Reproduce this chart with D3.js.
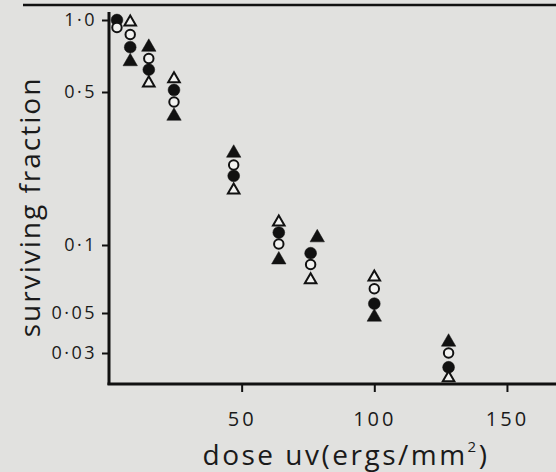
<!DOCTYPE html>
<html>
<head>
<meta charset="utf-8">
<script src="https://cdn.jsdelivr.net/npm/d3@7"></script>
<style>
  body { margin: 0; background: #e1e1df; }
  svg { display: block; }
  text { font-family: "Open Sans", Lato, sans-serif; fill: #1a1a1a; }
</style>
</head>
<body>
<svg id="chart" width="556" height="472"></svg>
<script>
// survival after uv dose, four strains
let filledCircle   = [[3,1.0],[8,0.77],[15,0.62],[24.5,0.51],[47,0.207],[64,0.114],[76,0.092],[100,0.055],[128,0.025]];
let openCircle     = [[3,0.93],[8,0.87],[15,0.69],[24.5,0.45],[47,0.232],[64,0.101],[76,0.082],[100,0.064],[128,0.030]];
let openTriangle   = [[8,0.98],[15,0.545],[24.5,0.567],[47,0.178],[64,0.127],[76,0.070],[100,0.072],[128,0.0218]];
let filledTriangle = [[8,0.67],[15,0.77],[24.5,0.388],[47,0.263],[64,0.086],[78.5,0.108],[100,0.0475],[128,0.0345]];

let yTicks = [1, 0.5, 0.1, 0.05, 0.03];
let yTickLabels = ["1·0", "0·5", "0·1", "0·05", "0·03"];
let xTicks = [50, 100, 150];
let xTickLabels = ["50", "100", "150"];

let svg = d3.select("#chart");
let svgWidth = 556;

let axisX = 109, axisY = 384;

let xMap = d3.scaleLinear()
            .domain([0, 170])
            .range([axisX, axisX + 170 * 2.653]);
// the printed log axis is not quite even, so the scale goes through each tick
let yMap = d3.scaleLog()
            .domain(yTicks)
            .range([20, 92, 245, 313, 353]);

// rule across the top of the page
svg.append("line")
    .attr("x1", 23).attr("x2", svgWidth)
    .attr("y1", 5).attr("y2", 5)
    .attr("stroke", "#111").attr("stroke-width", 2.5);

// axes
let yAxis = d3.axisLeft(yMap)
    .tickValues(yTicks)
    .tickFormat((d, i) => yTickLabels[i])
    .tickSize(7)
    .tickPadding(5);
let gy = svg.append("g").attr("transform", `translate(${axisX},0)`).call(yAxis);
gy.select(".domain").remove();
gy.selectAll(".tick line").attr("stroke", "#111").attr("stroke-width", 2);
gy.selectAll(".tick text")
    .style("font-size", "18px")
    .style("letter-spacing", "2.5px")
    .attr("fill", "#1a1a1a");

let xAxis = d3.axisBottom(xMap)
    .tickValues(xTicks)
    .tickFormat((d, i) => xTickLabels[i])
    .tickSize(8)
    .tickPadding(20);
let gx = svg.append("g").attr("transform", `translate(0,${axisY})`).call(xAxis);
gx.select(".domain").remove();
gx.selectAll(".tick line").attr("stroke", "#111").attr("stroke-width", 2);
gx.selectAll(".tick text")
    .style("font-size", "20px")
    .style("letter-spacing", "3px")
    .attr("fill", "#1a1a1a");

svg.append("line")
    .attr("x1", axisX).attr("x2", axisX)
    .attr("y1", 12).attr("y2", axisY + 1)
    .attr("stroke", "#111").attr("stroke-width", 3);
svg.append("line")
    .attr("x1", axisX - 1.5).attr("x2", svgWidth)
    .attr("y1", axisY).attr("y2", axisY)
    .attr("stroke", "#111").attr("stroke-width", 3);

// points
let series = [
    {data: filledCircle,   type: d3.symbolCircle,   size: 110, fill: "#111"},
    {data: openCircle,     type: d3.symbolCircle,   size: 70,  fill: "#f2f2f0"},
    {data: openTriangle,   type: d3.symbolTriangle, size: 58,  fill: "#f2f2f0"},
    {data: filledTriangle, type: d3.symbolTriangle, size: 90,  fill: "#111"}
];
series.forEach(s => {
    svg.append("g").selectAll("path")
        .data(s.data)
        .enter().append("path")
        .attr("transform", d => `translate(${xMap(d[0])},${yMap(d[1])})`)
        .attr("d", d3.symbol().type(s.type).size(s.size))
        .attr("fill", s.fill)
        .attr("stroke", "#111")
        .attr("stroke-width", s.fill == "#111" ? 0.5 : 2);
});

// axis titles
svg.append("text")
    .attr("transform", "translate(40,207) rotate(-90)")
    .attr("text-anchor", "middle")
    .style("font-size", "28px")
    .style("letter-spacing", "2px")
    .text("surviving fraction");

let xt = svg.append("text")
    .attr("x", 346).attr("y", 465)
    .attr("text-anchor", "middle")
    .style("font-size", "28px")
    .style("letter-spacing", "2.5px");
xt.append("tspan").text("dose uv(ergs/mm");
xt.append("tspan").attr("dy", -13).style("font-size", "15px").text("2");
xt.append("tspan").attr("dy", 13).text(")");
</script>
</body>
</html>
